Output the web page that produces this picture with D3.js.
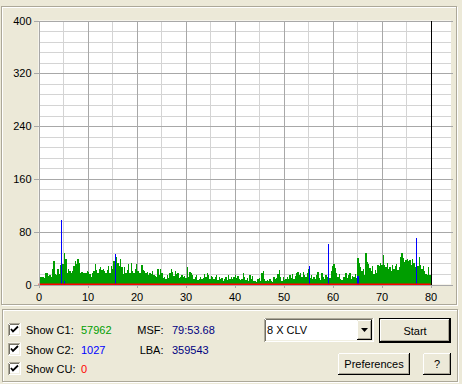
<!DOCTYPE html>
<html>
<head>
<meta charset="utf-8">
<script src="https://cdn.jsdelivr.net/npm/d3@7"></script>
<style>
body { margin: 0; background: #ece9d8; }
svg { display: block; font-family: "Liberation Sans", Arial, sans-serif; font-size: 11px; }
</style>
</head>
<body>
<div id="chart"></div>
<script>

// C1 errors per sample (left to right, 0..80 min)
var c1Values = [
 8,12,12,12,10,18,18,13,14,12, 24,35,16,14,23,16,30,31,31,48,
 38,18,23,21,18,21,28,36,31,38, 33,18,19,18,17,18,21,19,16,11,
 18,21,31,22,18,23,26,22,23,21, 17,22,28,18,28,23,36,31,41,33,
 28,38,27,16,26,18,22,31,18,33, 21,18,23,31,21,18,
 18,30,22,20,17,19,14,18,16,20, 15,13,11,23,14,23,18,10,12,9,
 14,10,17,24,19,13,20,16,18,10, 12,15,11,13,10,27,12,19,17,14,
 9,12,14,7,9,11,8,10,16,12, 17,14,9,13,12,8,11,15,7,12,
 8,10,5,9,11,7,14,9,11,8, 12,14,10,13,9,7,
 8,18,12,7,10,6,15,9,13,6, 5,4,9,10,5,18,20,8,6,7,
 5,9,6,4,11,8,10,16,22,12, 6,11,7,9,12,8,14,10,16,9,
 13,18,19,14,18,11,19,15,12,17, 24,10,14,8,12,9,15,19,10,7,
 18,11,9,14,12,8,10,20,28,31, 25,18,12,16,9,7,11,
 12,18,10,14,17,9,13,11,16,10, 40,33,26,20,24,15,48,34,31,25,
 20,28,16,22,18,30,28,33,29,44, 30,26,32,24,27,20,30,23,28,31,
 22,26,42,48,40,34,37,38,36,37, 30,38,32,26,35,28,41,30,24,28,
 20,16,14,27,15
]

// C2 errors: [minute, count]
var c2Spikes = [[4.62, 98], [5.2, 5], [15.66, 46], [55.3, 28], [59.0, 61], [65.1, 13], [65.3, 13], [77.0, 71]]

// CU errors (none)
var cuLevel = 0

// end-of-disc marker
var endMarker = [80, 400]

var xTickLabels = [0, 10, 20, 30, 40, 50, 60, 70, 80]
var xGrid = [5, 10, 15, 20, 25, 30, 35, 40, 45, 50, 55, 60, 65, 70, 75, 80]
var yTickLabels = [0, 80, 160, 240, 320, 400]
var yGrid = [16, 32, 48, 64, 96, 112, 128, 144, 176, 192, 208, 224, 256, 272, 288, 304, 336, 352, 368, 384]

var rowLabels = ["Show C1:", "Show C2:", "Show CU:"]
var rowCounts = ["57962", "1027", "0"]
var rowColors = ["#009e00", "#0000ff", "#ff0000"]
var infoLabels = ["MSF:", "LBA:"]
var infoValues = ["79:53.68", "359543"]
var speedLabel = "8 X CLV"

var W = 462, H = 384
var plotRight = 451

var svg = d3.select("#chart").append("svg")
  .attr("width", W)
  .attr("height", H)

svg.append("rect").attr("width", W).attr("height", H).attr("fill", "#ece9d8")

// group boxes (etched)
function groupBox(x, y, w, h) {
  svg.append("rect").attr("x", x + 1).attr("y", y + 1).attr("width", w).attr("height", h)
    .attr("fill", "none").attr("stroke", "#fff")
  svg.append("rect").attr("x", x).attr("y", y).attr("width", w).attr("height", h)
    .attr("fill", "none").attr("stroke", "#aca899")
}
groupBox(1.5, 6.5, 455, 298)
groupBox(2.5, 309.5, 455, 72)

var x = d3.scaleLinear().domain([0, 80]).range([38.5, 430.5])
var y = d3.scaleLinear().domain([0, 400]).range([284.5, 20.5])

// plot background
svg.append("rect")
  .attr("x", x(0)).attr("y", y(400))
  .attr("width", plotRight - x(0)).attr("height", y(0) - y(400))
  .attr("fill", "#fff")

var grid = svg.append("g").attr("shape-rendering", "crispEdges")

grid.selectAll(".hminor").data(yGrid).enter().append("line")
  .attr("x1", x(0)).attr("x2", plotRight)
  .attr("y1", d => Math.round(y(d)) + 0.5).attr("y2", d => Math.round(y(d)) + 0.5)
  .attr("stroke", "#d4d4d4")

grid.selectAll(".vgrid").data(xGrid).enter().append("line")
  .attr("x1", d => Math.round(x(d)) + 0.5).attr("x2", d => Math.round(x(d)) + 0.5)
  .attr("y1", y(400)).attr("y2", y(0))
  .attr("stroke", d => d % 10 == 0 ? "#a8a8a8" : "#d4d4d4")

grid.selectAll(".hmajor").data(yTickLabels).enter().append("line")
  .attr("x1", x(0)).attr("x2", plotRight + 2)
  .attr("y1", d => Math.round(y(d)) + 0.5).attr("y2", d => Math.round(y(d)) + 0.5)
  .attr("stroke", "#a8a8a8")

// C1 bars
var step = 80 / c1Values.length
var bars = svg.append("g").attr("shape-rendering", "crispEdges")
bars.selectAll("rect").data(c1Values).enter().append("rect")
  .attr("x", (d, i) => Math.round(x(i * step)))
  .attr("width", (d, i) => Math.max(1, Math.round(x((i + 1) * step)) - Math.round(x(i * step))))
  .attr("y", d => Math.round(y(d)))
  .attr("height", d => Math.round(y(0)) - Math.round(y(d)))
  .attr("fill", "#009e00")

// C2 spikes
svg.append("g").attr("shape-rendering", "crispEdges")
  .selectAll("line").data(c2Spikes).enter().append("line")
  .attr("x1", d => Math.round(x(d[0])) + 0.5).attr("x2", d => Math.round(x(d[0])) + 0.5)
  .attr("y1", d => Math.round(y(d[1]))).attr("y2", y(0))
  .attr("stroke", "#0000ff")

// CU line
svg.append("rect")
  .attr("x", x(0)).attr("y", Math.round(y(cuLevel)) - 1.5)
  .attr("width", x(80) - x(0)).attr("height", 2)
  .attr("fill", "#ff0000")

// end marker
svg.append("line")
  .attr("x1", Math.round(x(endMarker[0])) + 0.5).attr("x2", Math.round(x(endMarker[0])) + 0.5)
  .attr("y1", y(endMarker[1])).attr("y2", y(0))
  .attr("stroke", "#000").attr("shape-rendering", "crispEdges")

// axes
var yAxis = d3.axisLeft(y).tickValues(yTickLabels).tickSizeInner(5).tickSizeOuter(0).tickPadding(2)
var xAxis = d3.axisBottom(x).tickValues(xTickLabels).tickSizeInner(3).tickSizeOuter(0).tickPadding(5)

var ya = svg.append("g").attr("transform", "translate(" + x(0) + ",0)").call(yAxis)
var xa = svg.append("g").attr("transform", "translate(0," + (y(0) + 0.5) + ")").call(xAxis)

;[ya, xa].forEach(function(a) {
  a.attr("font-family", null).attr("font-size", null).attr("shape-rendering", "crispEdges")
  a.selectAll("line").attr("stroke", "#a8a8a8")
  a.select(".domain").attr("stroke", "#a8a8a8")
  a.selectAll("text").attr("fill", "#000")
})
xa.select(".domain").attr("d", "M" + x(0) + ",0H" + (plotRight + 2))

// ---- controls ----
function line(x1, y1, x2, y2, c) {
  svg.append("line").attr("x1", x1).attr("y1", y1).attr("x2", x2).attr("y2", y2)
    .attr("stroke", c).attr("shape-rendering", "crispEdges")
}

function sunken(x0, y0, w, h) {
  svg.append("rect").attr("x", x0).attr("y", y0).attr("width", w).attr("height", h).attr("fill", "#fff")
  line(x0 + 0.5, y0 + 0.5, x0 + w - 0.5, y0 + 0.5, "#aca899")
  line(x0 + 0.5, y0 + 0.5, x0 + 0.5, y0 + h - 0.5, "#aca899")
  line(x0 + 1.5, y0 + 1.5, x0 + w - 1.5, y0 + 1.5, "#716f64")
  line(x0 + 1.5, y0 + 1.5, x0 + 1.5, y0 + h - 1.5, "#716f64")
  line(x0 + 0.5, y0 + h - 0.5, x0 + w, y0 + h - 0.5, "#fff")
  line(x0 + w - 0.5, y0, x0 + w - 0.5, y0 + h, "#fff")
  line(x0 + 1.5, y0 + h - 1.5, x0 + w - 1, y0 + h - 1.5, "#f1efe2")
  line(x0 + w - 1.5, y0 + 1, x0 + w - 1.5, y0 + h - 1, "#f1efe2")
}

function raised(x0, y0, w, h) {
  svg.append("rect").attr("x", x0).attr("y", y0).attr("width", w).attr("height", h).attr("fill", "#ece9d8")
  line(x0 + 0.5, y0 + 0.5, x0 + w - 1, y0 + 0.5, "#fff")
  line(x0 + 0.5, y0 + 0.5, x0 + 0.5, y0 + h - 1, "#fff")
  line(x0, y0 + h - 0.5, x0 + w, y0 + h - 0.5, "#000")
  line(x0 + w - 0.5, y0, x0 + w - 0.5, y0 + h, "#000")
  line(x0 + 1, y0 + h - 1.5, x0 + w - 1, y0 + h - 1.5, "#aca899")
  line(x0 + w - 1.5, y0 + 1, x0 + w - 1.5, y0 + h - 1, "#aca899")
}

function button(x0, y0, w, h, label, isDefault) {
  if (isDefault) {
    svg.append("rect").attr("x", x0 + 0.5).attr("y", y0 + 0.5).attr("width", w - 1).attr("height", h - 1)
      .attr("fill", "none").attr("stroke", "#000").attr("shape-rendering", "crispEdges")
    raised(x0 + 1, y0 + 1, w - 2, h - 2)
  } else {
    raised(x0, y0, w, h)
  }
  svg.append("text").attr("x", x0 + w / 2).attr("y", y0 + h / 2 + 4)
    .attr("text-anchor", "middle").attr("fill", "#000").text(label)
}

var rowTops = [323, 342.5, 362]
rowLabels.forEach(function(lbl, i) {
  var t = rowTops[i]
  sunken(8, t, 13, 13)
  svg.append("path")
    .attr("d", "M" + 11 + "," + (t + 6) + "l2,2.5l5,-5")
    .attr("fill", "none").attr("stroke", "#000").attr("stroke-width", 1.8)
  svg.append("text").attr("x", 26).attr("y", t + 11).attr("fill", "#000").text(lbl)
  svg.append("text").attr("x", 81).attr("y", t + 11).attr("fill", rowColors[i]).text(rowCounts[i])
})

infoLabels.forEach(function(lbl, i) {
  var t = rowTops[i]
  svg.append("text").attr("x", 163.5).attr("y", t + 11).attr("text-anchor", "end").attr("fill", "#000").text(lbl)
  svg.append("text").attr("x", 172).attr("y", t + 11).attr("fill", "#000080").text(infoValues[i])
})

// speed combo
sunken(264, 318, 110, 24)
svg.append("text").attr("x", 267).attr("y", 334).attr("fill", "#000").text(speedLabel)
raised(357, 320, 15, 20)
svg.append("path").attr("d", "M361,328h7l-3.5,4z").attr("fill", "#000")

button(379, 318, 72, 25, "Start", true)
button(338, 353, 72, 22, "Preferences", false)
button(423, 353, 28, 22, "?", false)

</script>
</body>
</html>
